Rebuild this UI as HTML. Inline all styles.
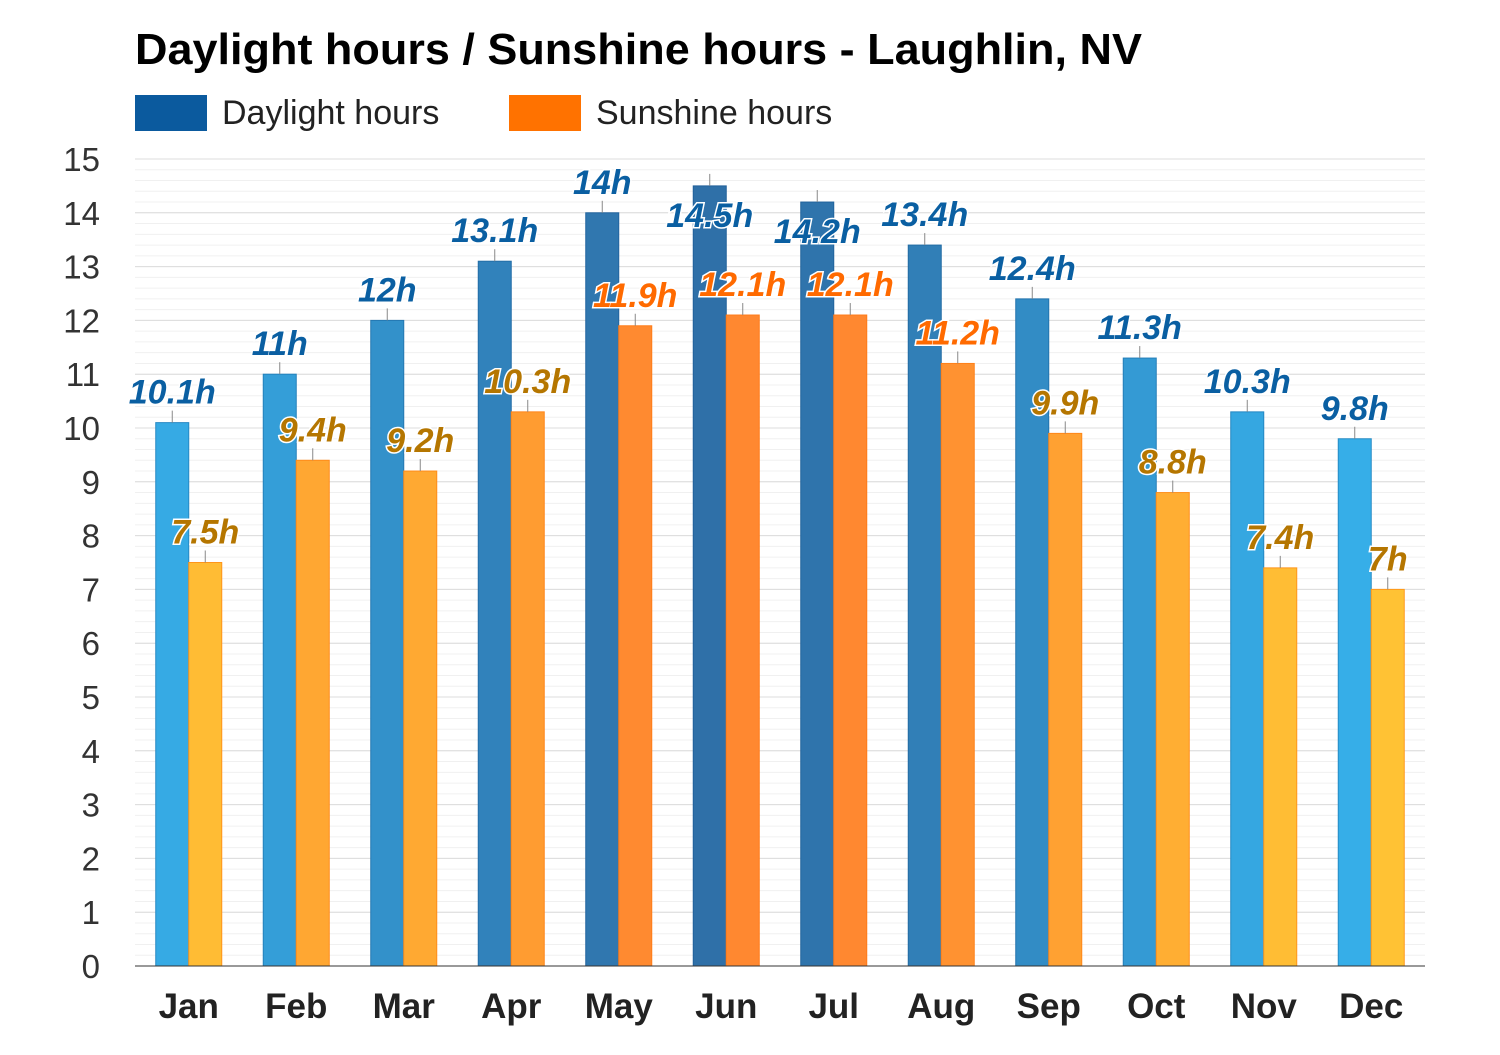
<!DOCTYPE html>
<html><head><meta charset="utf-8"><style>
body{margin:0;background:#fff;font-family:"Liberation Sans",Arial,sans-serif}
svg text{font-family:"Liberation Sans",Arial,sans-serif}
</style></head><body>
<svg id="chart" width="1500" height="1050" xmlns="http://www.w3.org/2000/svg">
<rect width="1500" height="1050" fill="#fff"/>
<text x="135" y="64" font-size="44" font-weight="bold" fill="#000" textLength="1007" lengthAdjust="spacingAndGlyphs">Daylight hours / Sunshine hours - Laughlin, NV</text>
<g>
<rect x="135" y="95" width="72" height="36" fill="#0b5a9e"/>
<text x="222" y="124" font-size="34" fill="#222">Daylight hours</text>
<rect x="509" y="95" width="72" height="36" fill="#ff7200"/>
<text x="596" y="124" font-size="34" fill="#222">Sunshine hours</text>
</g>
<g id="grid"></g>
<g id="yaxis"></g>
<g id="bars"></g>
<g id="xaxis"></g>
</svg>
<script>
const months = ["Jan","Feb","Mar","Apr","May","Jun","Jul","Aug","Sep","Oct","Nov","Dec"];
const daylight = [10.1,11,12,13.1,14,14.5,14.2,13.4,12.4,11.3,10.3,9.8];
const sunshine = [7.5,9.4,9.2,10.3,11.9,12.1,12.1,11.2,9.9,8.8,7.4,7];
const daylightLabels = ["10.1h","11h","12h","13.1h","14h","14.5h","14.2h","13.4h","12.4h","11.3h","10.3h","9.8h"];
const sunshineLabels = ["7.5h","9.4h","9.2h","10.3h","11.9h","12.1h","12.1h","11.2h","9.9h","8.8h","7.4h","7h"];
const yTicks = [0,1,2,3,4,5,6,7,8,9,10,11,12,13,14,15];

const NS="http://www.w3.org/2000/svg";
const X0=135,X1=1425,Y0=966,Y15=159,YMAX=15;
const y=v=>Y0-(v/YMAX)*(Y0-Y15);
const band=(X1-X0)/months.length;
const cx=i=>X0+band*(i+0.5);
function mk(tag,attrs,parent){const e=document.createElementNS(NS,tag);for(const k in attrs)e.setAttribute(k,attrs[k]);parent.appendChild(e);return e;}
function lerp(a,b,t){return a.map((v,i)=>Math.round(v+(b[i]-v)*t));}
function rgb(c){return `rgb(${c[0]},${c[1]},${c[2]})`;}
const grid=document.getElementById('grid'),yax=document.getElementById('yaxis'),bars=document.getElementById('bars'),xax=document.getElementById('xaxis');
for(let v=0;v<=YMAX+1e-9;v+=0.2){
  const l=mk('line',{x1:X0,x2:X1,y1:y(v),y2:y(v),stroke:'#f0f0f0','stroke-width':1},grid);
  
  
}
yTicks.forEach(t=>{
  const l=mk('line',{x1:X0,x2:X1,y1:y(t),y2:y(t),stroke:'#dcdcdc','stroke-width':1},grid);
  
  
  const tx=mk('text',{x:100,y:y(t)+12,'font-size':33,'text-anchor':'end',fill:'#333'},yax);
  tx.textContent=t;
  
  
});
const bw=33;
function label(x,top,txt,color,name){
  let by=top-19;
  if(by<185) by=top+41;
  const ln=mk('line',{x1:x,x2:x,y1:top,y2:top-12,stroke:'#888','stroke-width':1},bars);
  
  
  const t=mk('text',{x:x,y:by,'font-size':34,'font-weight':'bold','font-style':'italic','text-anchor':'middle',fill:color,stroke:'#fff','stroke-width':3,'paint-order':'stroke'},bars);
  t.textContent=txt;
  
  
}
months.forEach((m,i)=>{
  const c=cx(i);
  const td=Math.min(1,Math.max(0,(daylight[i]-9.8)/(14.5-9.8)));
  const dc=lerp([54,174,232],[47,112,168],td);
  const r1=mk('rect',{x:c-bw,y:y(daylight[i]),width:bw,height:Y0-y(daylight[i]),fill:rgb(dc),stroke:rgb(lerp(dc,[0,60,120],0.3)),'stroke-width':1},bars);
  
  
  const ts=Math.min(1,Math.max(0,(sunshine[i]-7)/(12.1-7)));
  const sc=lerp([255,194,52],[255,136,48],ts);
  const r2=mk('rect',{x:c,y:y(sunshine[i]),width:bw,height:Y0-y(sunshine[i]),fill:rgb(sc),stroke:rgb(lerp(sc,[255,110,0],0.5)),'stroke-width':1},bars);
  
  
  label(c-bw/2,y(daylight[i]),daylightLabels[i],'#0a5fa2','daylight-value-label');
  label(c+bw/2,y(sunshine[i]),sunshineLabels[i],sunshine[i]>=11?'#ff6a00':'#b57600','sunshine-value-label');
  const xt=mk('text',{x:c,y:1018,'font-size':35,'font-weight':'bold','text-anchor':'middle',fill:'#222'},xax);
  xt.textContent=m;
  
  
});
const ax=mk('line',{x1:X0,x2:X1,y1:Y0,y2:Y0,stroke:'#333','stroke-width':1},xax);


</script>
</body></html>
